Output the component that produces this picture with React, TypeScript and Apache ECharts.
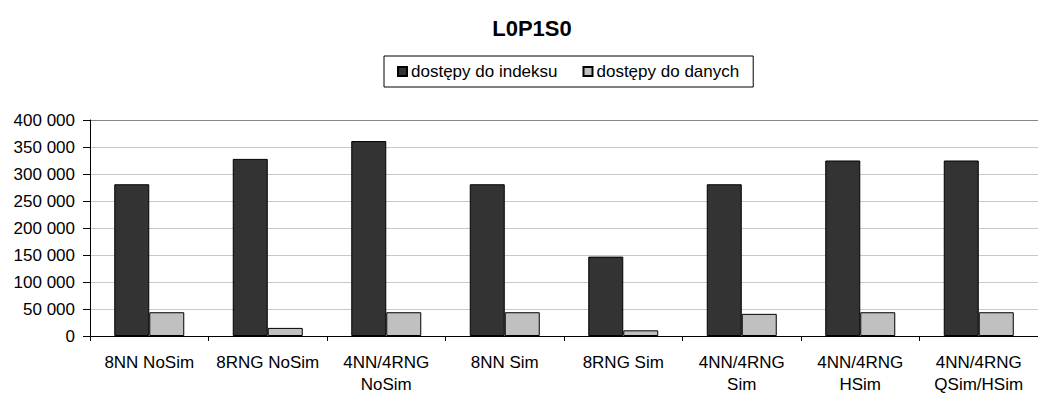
import React, { useEffect, useRef } from "react";
import * as echarts from "echarts";

const title = "L0P1S0";
const categories = [
  "8NN NoSim",
  "8RNG NoSim",
  "4NN/4RNG\nNoSim",
  "8NN Sim",
  "8RNG Sim",
  "4NN/4RNG\nSim",
  "4NN/4RNG\nHSim",
  "4NN/4RNG\nQSim/HSim",
];
const seriesNames = ["dostępy do indeksu", "dostępy do danych"];
const indexAccess = [281000, 328000, 361000, 281000, 147000, 281000, 325000, 325000];
const dataAccess = [44000, 15000, 44000, 44000, 10500, 41000, 44000, 44000];
const yTicks = { min: 0, max: 400000, interval: 50000 };

const fmt = (n: number) => String(n).replace(/\B(?=(\d{3})+(?!\d))/g, " ");

export default function App() {
  const ref = useRef<HTMLDivElement>(null);
  useEffect(() => {
    if (!ref.current) return;
    const chart = echarts.init(ref.current, undefined, { renderer: "svg" });
    const font = "Liberation Sans, Arial, sans-serif";
    chart.setOption({
      animation: false,
      backgroundColor: "#ffffff",
      textStyle: { fontFamily: font },
      title: {
        text: title,
        left: 527,
        top: 12,
        textAlign: "center",
        textStyle: { fontFamily: font, fontSize: 22, fontWeight: "bold", color: "#000" },
      },
      legend: {
        left: 384,
        top: 56,
        padding: [7, 14, 7, 13],
        borderColor: "#000",
        borderWidth: 1,
        itemWidth: 9,
        itemHeight: 9,
        itemGap: 25,
        icon: "rect",
        textStyle: { fontFamily: font, fontSize: 17, color: "#000", padding: [0, 0, 0, -1] },
        data: seriesNames,
      },
      grid: { left: 90, top: 120, width: 957, height: 217, containLabel: false },
      xAxis: {
        type: "category",
        data: categories,
        axisLine: { lineStyle: { color: "#000", width: 1 } },
        axisTick: { show: true, length: 5, lineStyle: { color: "#000" } },
        axisLabel: {
          interval: 0,
          color: "#000",
          fontFamily: font,
          fontSize: 17,
          lineHeight: 22,
          margin: 15,
        },
      },
      yAxis: {
        type: "value",
        min: yTicks.min,
        max: yTicks.max,
        interval: yTicks.interval,
        axisLine: { show: true, lineStyle: { color: "#000", width: 1 } },
        axisTick: { show: true, length: 7, lineStyle: { color: "#000" } },
        axisLabel: {
          color: "#000",
          fontFamily: font,
          fontSize: 17,
          margin: 15,
          formatter: (v: number) => fmt(v),
        },
        splitLine: {
          show: true,
          lineStyle: {
            color: ["#c8c8c8", "#c8c8c8", "#c8c8c8", "#c8c8c8", "#c8c8c8", "#c8c8c8", "#c8c8c8", "#c8c8c8", "#888888"],
            width: 1,
          },
        },
      },
      series: [
        {
          name: seriesNames[0],
          type: "bar",
          data: indexAccess,
          barWidth: 35,
          barGap: "0%",
          itemStyle: { color: "#333333", borderColor: "#000", borderWidth: 1 },
        },
        {
          name: seriesNames[1],
          type: "bar",
          data: dataAccess,
          barWidth: 35,
          barGap: "0%",
          itemStyle: { color: "#c0c0c0", borderColor: "#000", borderWidth: 1 },
        },
      ],
    });
    return () => chart.dispose();
  }, []);
  return (
    <div
      ref={ref}
      style={{ position: "absolute", left: 0, top: 0, width: 1038, height: 395, overflow: "hidden" }}
    />
  );
}
